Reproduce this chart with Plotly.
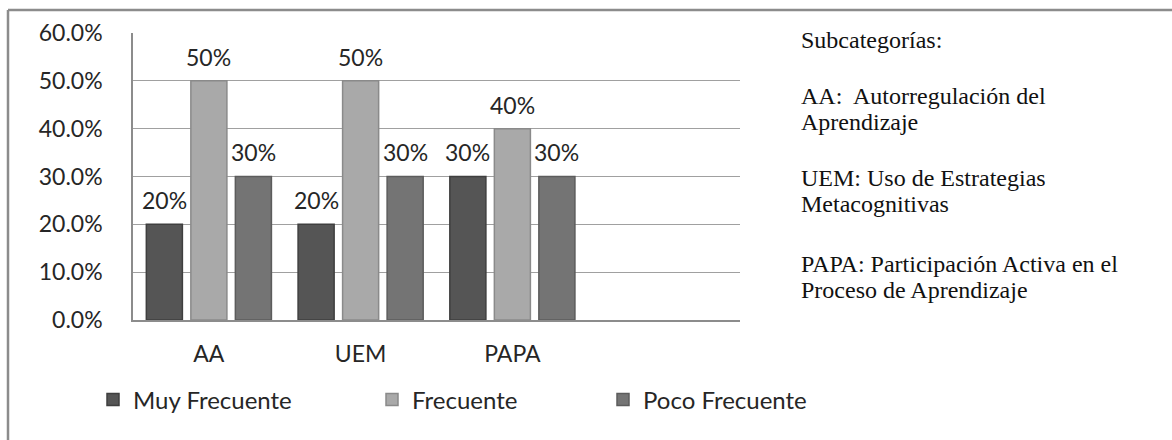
import plotly.graph_objects as go

categories = ["AA", "UEM", "PAPA"]
series_names = ["Muy Frecuente", "Frecuente", "Poco Frecuente"]
muy_frecuente = [0.20, 0.20, 0.30]
frecuente = [0.50, 0.50, 0.40]
poco_frecuente = [0.30, 0.30, 0.30]
value_labels = [["20%", "20%", "30%"], ["50%", "50%", "40%"], ["30%", "30%", "30%"]]
y_ticks = [0.0, 0.1, 0.2, 0.3, 0.4, 0.5, 0.6]
side_lines = [
    "Subcategorías:",
    "AA:  Autorregulación del",
    "Aprendizaje",
    "UEM: Uso de Estrategias",
    "Metacognitivas",
    "PAPA: Participación Activa en el",
    "Proceso de Aprendizaje",
]

W, H = 1172, 440
plot_l, plot_r, plot_t, plot_b = 133, 740, 33, 320
n_slots = 4
bargap = 0.12
bargroupgap = 0.19

fill_colors = ["#555555", "#a9a9a9", "#747474"]
line_colors = ["#3f3f3f", "#8a8a8a", "#5c5c5c"]
legend_x_px = [93, 372, 603]
side_y_px = [40, 96, 122, 178, 204, 264, 290]

FONT = "Lato"

fig = go.Figure()
all_vals = [muy_frecuente, frecuente, poco_frecuente]
legend_ids = ["legend", "legend2", "legend3"]
for i, (name, vals) in enumerate(zip(series_names, all_vals)):
    fig.add_trace(go.Bar(
        x=categories, y=vals, name=name,
        marker=dict(color=fill_colors[i], line=dict(color=line_colors[i], width=1.5)),
        legend=legend_ids[i],
        hoverinfo="skip",
    ))

cat_w = (plot_r - plot_l) / n_slots
slot = cat_w * (1 - bargap) / 3
annotations = []
for i, vals in enumerate(all_vals):
    for j, v in enumerate(vals):
        annotations.append(dict(
            x=categories[j], y=v, xref="x", yref="y",
            text=value_labels[i][j], showarrow=False,
            xshift=(i - 1) * slot, yshift=24, yanchor="middle",
            font=dict(family=FONT, size=23, color="#262626"),
        ))
for txt, yp in zip(side_lines, side_y_px):
    annotations.append(dict(
        x=800 / W, y=1 - yp / H, xref="paper", yref="paper",
        text=txt, showarrow=False, xanchor="left", yanchor="middle",
        height=26, valign="middle", borderpad=0,
        font=dict(family="Liberation Serif", size=24, color="#111111"),
    ))

legend_common = dict(
    orientation="h", yanchor="middle", xanchor="left",
    font=dict(family=FONT, size=24, color="#262626"),
    bgcolor="rgba(0,0,0,0)", borderwidth=0,
)
layout_legends = {}
for k, lid in enumerate(legend_ids):
    layout_legends[lid] = dict(legend_common, x=legend_x_px[k] / W, y=1 - 400 / H)

fig.update_layout(
    width=W, height=H,
    margin=dict(l=0, r=0, t=0, b=0, autoexpand=False),
    paper_bgcolor="white", plot_bgcolor="white",
    barmode="group", bargap=bargap, bargroupgap=bargroupgap,
    showlegend=True,
    font=dict(family=FONT, size=23, color="#262626"),
    xaxis=dict(
        domain=[plot_l / W, plot_r / W],
        range=[-0.5, n_slots - 0.5],
        showgrid=False, showline=True, linecolor="#8c8c8c", linewidth=1.5,
        ticks="", ticklabelstandoff=13,
        tickfont=dict(family=FONT, size=23, color="#262626"),
        fixedrange=True,
    ),
    yaxis=dict(
        domain=[1 - plot_b / H, 1 - plot_t / H],
        range=[0, 0.6], tickvals=y_ticks, tickformat=".1%",
        showgrid=True, gridcolor="#a0a0a0", gridwidth=1,
        showline=True, linecolor="#8c8c8c", linewidth=1.5,
        ticks="", ticklabelstandoff=24,
        tickfont=dict(family=FONT, size=23, color="#262626"),
        zeroline=False, fixedrange=True,
    ),
    annotations=annotations,
    shapes=[
        dict(type="line", xref="paper", yref="paper", x0=8 / W, x1=1, y0=1 - 10 / H, y1=1 - 10 / H,
             line=dict(color="#8c8c8c", width=2.5)),
        dict(type="line", xref="paper", yref="paper", x0=8 / W, x1=8 / W, y0=0, y1=1 - 10 / H,
             line=dict(color="#8c8c8c", width=2.5)),
    ],
    **layout_legends,
)

fig.write_html("out.html")
